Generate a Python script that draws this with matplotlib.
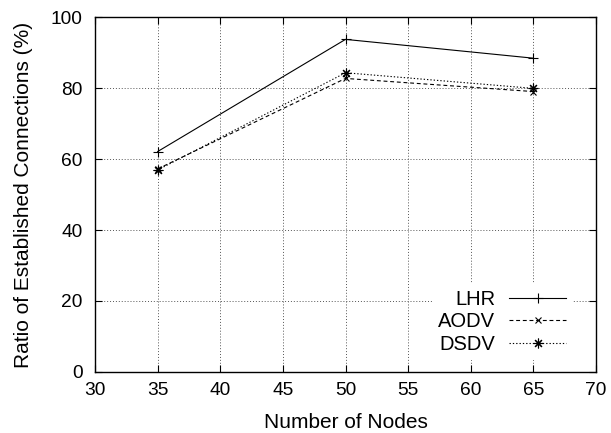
import matplotlib
matplotlib.use("Agg")
import matplotlib.pyplot as plt

nodes = [35, 50, 65]
lhr = [62.1, 93.7, 88.4]
aodv = [57.2, 82.7, 79.0]
dsdv = [56.9, 84.3, 79.9]
x_ticks = [30, 35, 40, 45, 50, 55, 60, 65, 70]
y_ticks = [0, 20, 40, 60, 80, 100]

plt.rcParams['font.family'] = ['Liberation Sans', 'DejaVu Sans']

fig = plt.figure(figsize=(6.11, 4.33), dpi=100)
ax = fig.add_axes([0.1555, 0.1409, 0.82, 0.8198])

lw = 0.8
ax.plot(nodes, lhr, color='black', lw=lw, ls='-', marker='+', ms=7, mew=0.8, label='LHR')
ax.plot(nodes, aodv, color='black', lw=lw, ls=(0, (3.5, 2.5)), marker='x', ms=5, mew=0.8, label='AODV')
ax.plot(nodes, dsdv, color='black', lw=lw, ls=(0, (1.2, 1.8)), marker=(8, 2, 0), ms=7, mew=0.8, label='DSDV')

ax.set_xlim(30, 70)
ax.set_ylim(0, 100)
ax.set_xticks(x_ticks)
ax.set_yticks(y_ticks)
ax.tick_params(direction='in', top=True, right=True, length=5, width=0.8, labelsize=13.8)
ax.tick_params(axis='x', pad=7)
ax.tick_params(axis='y', pad=9)
ax.grid(True, ls=(0, (1, 2)), color='#555555', lw=0.7)
for s in ax.spines.values():
    s.set_linewidth(1.0)

ax.set_xlabel('Number of Nodes', fontsize=15, labelpad=10)
ax.set_ylabel('Ratio of Established Connections (%)', fontsize=15, labelpad=13)

leg = ax.legend(loc='center right', bbox_to_anchor=(0.953, 0.141), markerfirst=False,
                frameon=True, fancybox=False, facecolor='white', edgecolor='none',
                framealpha=1.0, fontsize=14.5, handlelength=2.83, handletextpad=0.7,
                labelspacing=0.18, borderpad=0.3, borderaxespad=0)

fig.savefig('out.png', dpi=100)
